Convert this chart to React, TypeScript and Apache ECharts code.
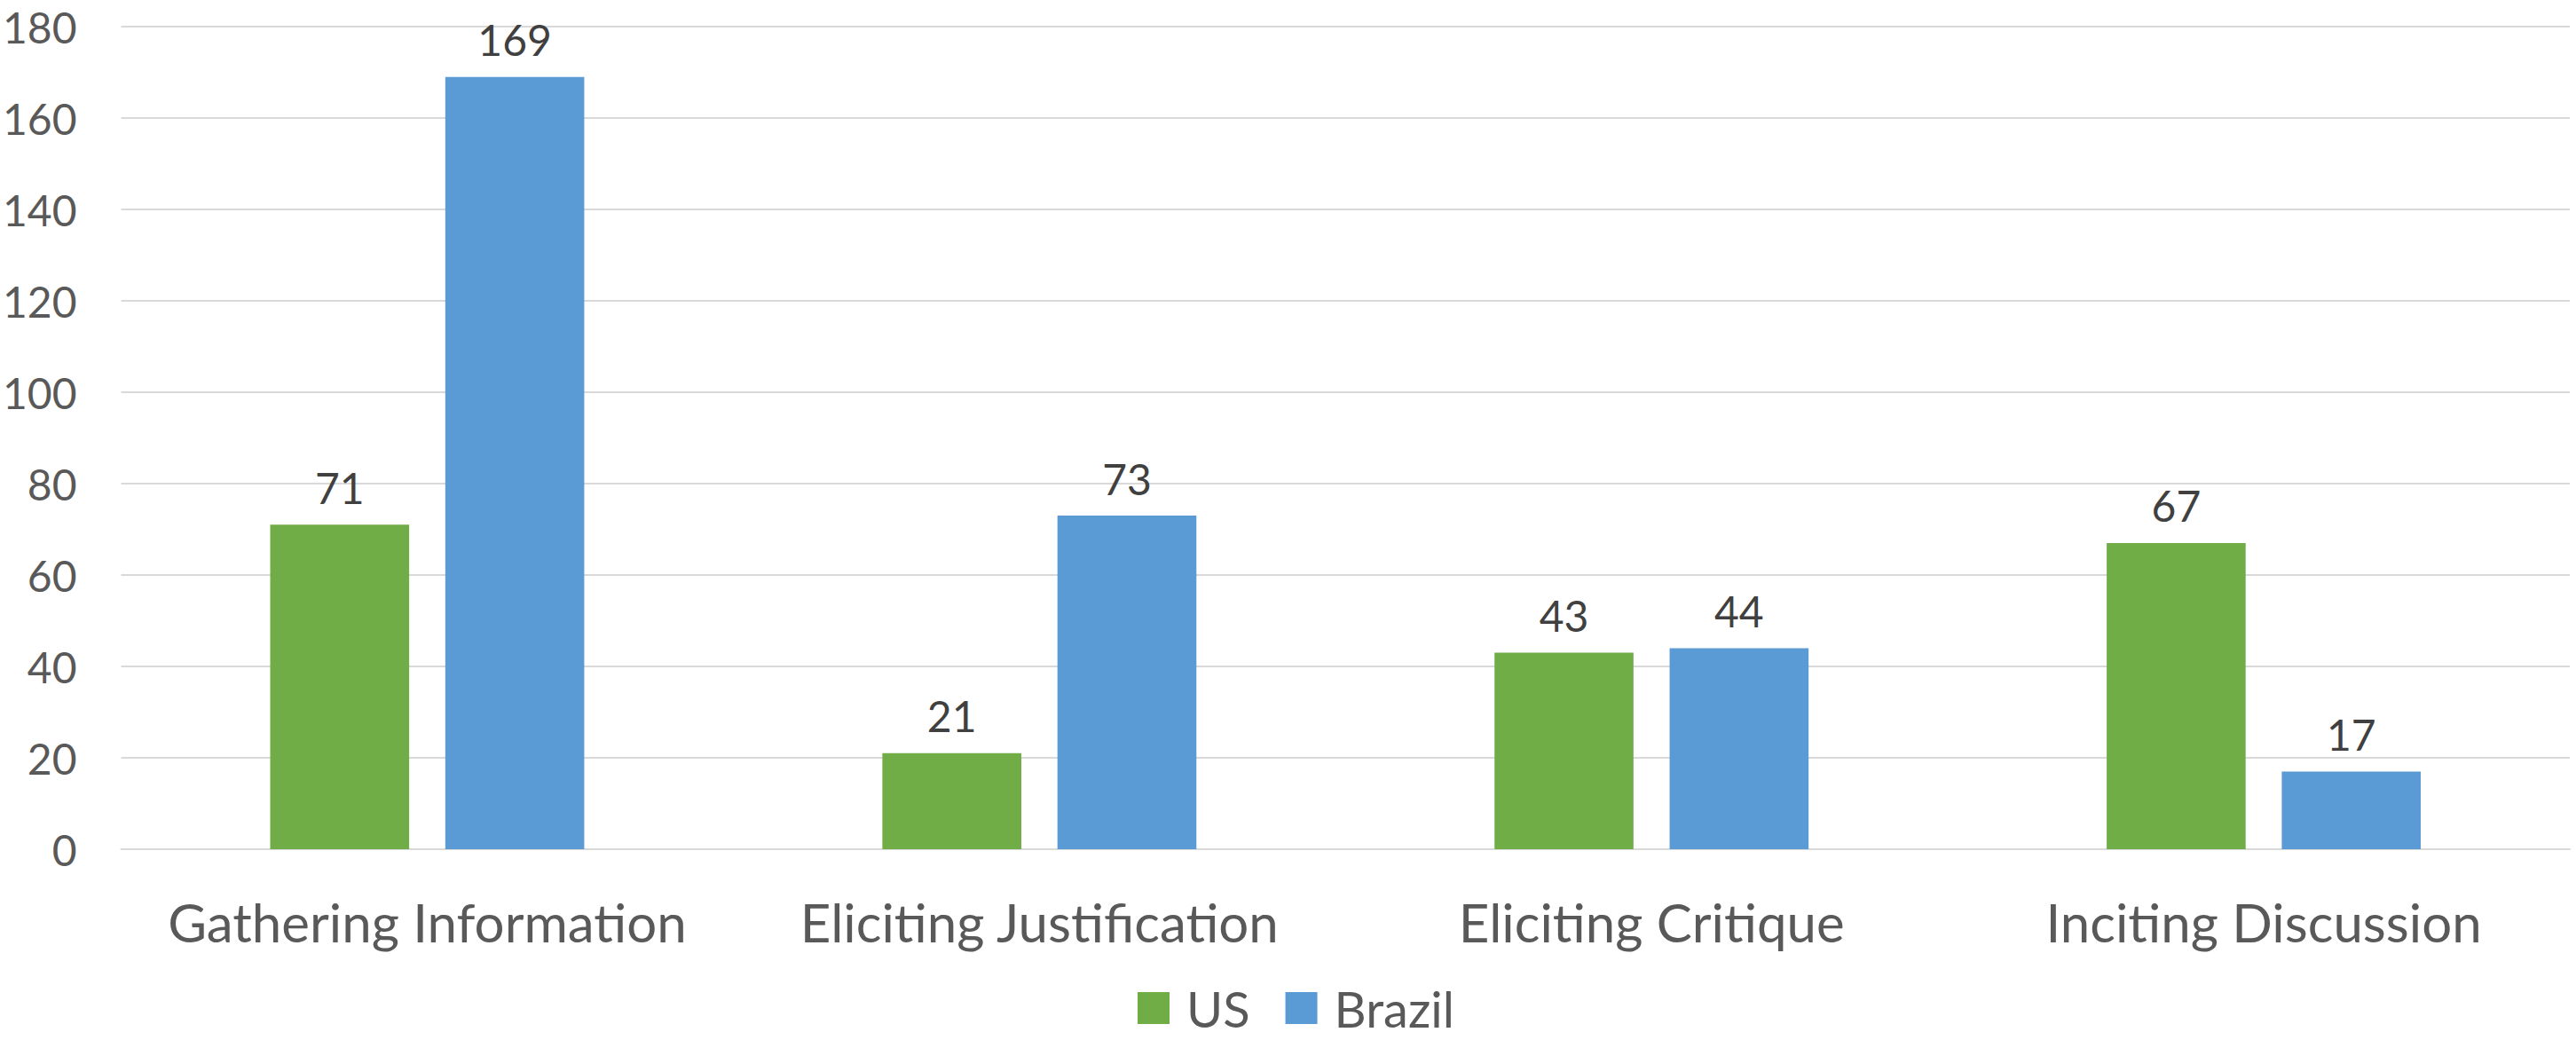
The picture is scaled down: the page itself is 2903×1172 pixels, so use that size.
import React, { useEffect, useRef } from "react";
import * as echarts from "echarts";

// Question types and counts per country
const categories: string[] = [
  "Gathering Information",
  "Eliciting Justification",
  "Eliciting Critique",
  "Inciting Discussion",
];
const usValues: number[] = [71, 21, 43, 67];
const brazilValues: number[] = [169, 73, 44, 17];
const seriesNames: string[] = ["US", "Brazil"];

const FONT = "Lato, 'Open Sans', sans-serif";
const GREEN = "#70AD47";
const BLUE = "#5B9BD5";
const AXIS_TEXT = "#595959";
const LABEL_TEXT = "#404040";
const GRID = "#D9D9D9";

export default function App() {
  const ref = useRef<HTMLDivElement>(null);

  useEffect(() => {
    if (!ref.current) return;
    const chart = echarts.init(ref.current, undefined, { renderer: "svg" });

    const barLabel = {
      show: true,
      position: "top" as const,
      distance: 18,
      fontFamily: FONT,
      fontSize: 48,
      color: LABEL_TEXT,
    };

    chart.setOption({
      animation: false,
      backgroundColor: "#ffffff",
      textStyle: { fontFamily: FONT },
      grid: { left: 127, right: 7, top: 30, bottom: 215, containLabel: false },
      legend: {
        data: seriesNames,
        left: 1282,
        top: 1108,
        padding: 0,
        itemWidth: 36,
        itemHeight: 36,
        itemGap: 40,
        icon: "rect",
        textStyle: {
          fontFamily: FONT,
          fontSize: 56,
          lineHeight: 56,
          color: AXIS_TEXT,
          padding: [0, 0, 0, 14],
        },
      },
      xAxis: {
        type: "category",
        data: categories,
        axisLine: { show: true, lineStyle: { color: GRID, width: 2 } },
        axisTick: { show: false },
        axisLabel: {
          margin: 52,
          fontFamily: FONT,
          fontSize: 60,
          color: AXIS_TEXT,
          interval: 0,
        },
      },
      yAxis: {
        type: "value",
        min: 0,
        max: 180,
        interval: 20,
        axisLine: { show: false },
        axisTick: { show: false },
        splitLine: { lineStyle: { color: GRID, width: 2 } },
        axisLabel: {
          margin: 50,
          fontFamily: FONT,
          fontSize: 48,
          color: AXIS_TEXT,
        },
      },
      series: [
        {
          name: seriesNames[0],
          type: "bar",
          data: usValues,
          barWidth: "22.7%",
          barGap: "26%",
          itemStyle: { color: GREEN },
          label: barLabel,
        },
        {
          name: seriesNames[1],
          type: "bar",
          data: brazilValues,
          barWidth: "22.7%",
          barGap: "26%",
          itemStyle: { color: BLUE },
          label: barLabel,
        },
      ],
    });

    return () => chart.dispose();
  }, []);

  return (
    <div
      ref={ref}
      style={{ position: "absolute", left: 0, top: 0, width: 2903, height: 1172 }}
    />
  );
}
